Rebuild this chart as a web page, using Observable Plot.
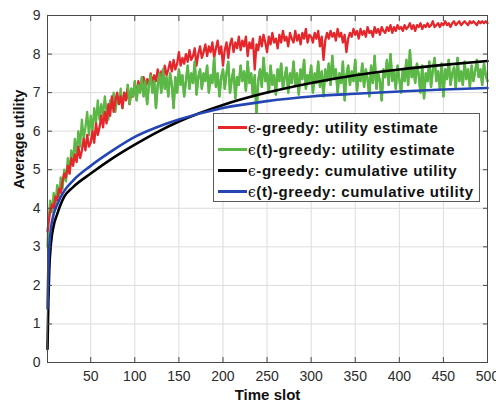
<!DOCTYPE html>
<html>
<head>
<meta charset="utf-8">
<script src="https://cdn.jsdelivr.net/npm/d3@7"></script>
<script src="https://cdn.jsdelivr.net/npm/@observablehq/plot@0.6"></script>
<style>
  html, body { margin: 0; padding: 0; background: #fff; }
  #wrap { position: relative; width: 496px; height: 405px; font-family: "Liberation Sans", Arial, sans-serif; }
  #legend { position: absolute; left: 213px; top: 113px; width: 267px; height: 89px; border: 1px solid #5a5a5a; background: #fff; box-sizing: border-box; padding-top: 3px; }
  .row { display: flex; align-items: center; height: 21.4px; }
  .swatch { width: 29px; height: 3px; margin-left: 4px; margin-right: 1px; }
  .lab { font-weight: bold; font-size: 15px; color: #111; white-space: nowrap; letter-spacing: 0.55px; }
  .eps { font-family: "DejaVu Serif", serif; font-weight: normal; font-size: 14px; letter-spacing: 0.5px; }
</style>
</head>
<body>
<div id="wrap"><div id="chart"></div><div id="legend"></div></div>
<script>
// Time slots of the noisy estimate series: slot 1, then every 2nd slot
const tNoisy = [1].concat(d3.range(2, 501, 2));

// ε-greedy: utility estimate (red)
const redEstimate = [3.4,
  3.6, 3.9, 4.1, 4.0, 4.3, 4.2, 4.5, 4.4, 4.7, 4.9,
  4.8, 5.1, 4.9, 5.3, 5.1, 5.4, 5.2, 5.6, 5.3, 5.5,
  5.8, 5.5, 5.9, 5.6, 5.7, 6.0, 5.7, 6.2, 5.9, 6.1,
  6.4, 6.1, 6.5, 6.2, 6.7, 6.4, 6.9, 6.5, 6.8, 7.0,
  6.7, 6.9, 6.6, 7.0, 6.8, 7.1, 6.7, 7.0, 6.9, 7.2,
  6.95, 7.3, 7.05, 7.2, 7.4, 7.1, 7.35, 7.2, 7.5, 7.25,
  7.45, 7.3, 7.6, 7.35, 7.55, 7.4, 7.7, 7.45, 7.6, 7.8,
  7.55, 7.85, 7.6, 7.75, 8.05, 7.7, 7.9, 7.75, 8.0, 7.8,
  8.1, 7.85, 7.95, 8.15, 7.7, 8.0, 8.2, 7.9, 8.05, 8.25,
  7.95, 8.2, 8.05, 8.3, 7.9, 8.15, 8.35, 8.0, 8.2, 7.7,
  8.1, 8.3, 7.9, 8.25, 8.4, 8.05, 8.3, 8.15, 8.45, 8.1,
  8.35, 8.2, 8.45, 7.95, 8.3, 8.15, 8.4, 7.6, 8.25, 8.1,
  8.45, 8.2, 8.5, 8.3, 8.05, 8.45, 8.25, 8.55, 8.3, 8.4,
  8.15, 8.5, 8.3, 8.6, 8.35, 8.45, 8.2, 8.55, 8.4, 8.3,
  8.6, 8.35, 8.5, 8.25, 8.55, 8.4, 8.65, 8.3, 8.5, 8.45,
  8.3, 8.55, 8.4, 8.6, 8.2, 8.45, 7.85, 8.35, 8.55, 8.4,
  8.6, 8.45, 8.55, 8.35, 8.65, 8.45, 8.55, 8.3, 8.5, 8.05,
  8.4, 8.55, 8.45, 8.65, 8.5, 8.6, 8.4, 8.65, 8.5, 8.6,
  8.45, 8.7, 8.55, 8.6, 8.45, 8.7, 8.55, 8.65, 8.5, 8.7,
  8.6, 8.55, 8.7, 8.6, 8.75, 8.55, 8.7, 8.6, 8.75, 8.65,
  8.7, 8.6, 8.75, 8.65, 8.7, 8.8, 8.65, 8.75, 8.6, 8.75,
  8.7, 8.8, 8.65, 8.75, 8.7, 8.8, 8.7, 8.75, 8.85, 8.7,
  8.75, 8.8, 8.7, 8.8, 8.75, 8.85, 8.75, 8.8, 8.7, 8.8,
  8.85, 8.75, 8.8, 8.85, 8.75, 8.8, 8.85, 8.8, 8.75, 8.85,
  8.8, 8.85, 8.8, 8.75, 8.85, 8.8, 8.85, 8.8, 8.85, 8.8
];

// ε(t)-greedy: utility estimate (green)
const greenEstimate = [3.0,
  3.6, 4.2, 3.9, 4.4, 4.1, 4.6, 4.3, 4.8, 4.5, 5.0,
  4.7, 5.3, 4.9, 5.5, 5.2, 5.8, 5.4, 6.0, 5.6, 6.3,
  5.8, 6.1, 6.5, 5.9, 6.4, 6.0, 6.6, 6.2, 6.8, 6.3,
  6.7, 6.4, 6.9, 6.5, 6.3, 6.8, 6.6, 7.0, 6.5, 6.9,
  6.7, 7.1, 6.6, 7.0, 6.8, 7.2, 6.7, 7.1, 6.9, 7.3,
  6.8, 7.2, 7.0, 7.4, 6.9, 7.3, 6.7, 7.2, 7.45, 7.0,
  7.3, 6.6, 7.2, 7.5, 7.0, 7.6, 7.1, 7.4, 6.9, 7.5,
  7.2, 6.6, 7.4, 7.0, 7.6, 7.2, 7.45, 6.9, 7.3, 7.7,
  7.1, 7.5, 7.25, 7.8, 6.95, 7.4, 7.6, 7.1, 7.5, 7.3,
  7.7, 7.0, 7.45, 7.25, 7.9, 7.15, 7.5, 6.9, 7.4, 7.6,
  7.1, 7.5, 7.8, 7.0, 7.35, 7.6, 6.85, 7.4, 7.2, 7.7,
  7.3, 7.55, 7.05, 7.8, 7.25, 7.5, 6.9, 7.45, 6.45, 7.3,
  7.6, 7.15, 7.9, 7.3, 7.5, 7.0, 7.7, 7.2, 7.45, 6.95,
  7.6, 7.3, 7.75, 7.1, 7.4, 7.65, 7.0, 7.5, 7.25, 7.8,
  7.2, 7.5, 6.95, 7.6, 7.35, 7.85, 7.1, 7.45, 7.3, 7.7,
  7.0, 7.5, 7.25, 7.8, 7.15, 7.55, 6.9, 7.6, 7.3, 7.75,
  7.2, 7.95, 7.35, 7.6, 7.0, 7.5, 7.25, 7.8, 6.8, 7.45,
  7.7, 7.2, 7.55, 7.3, 7.85, 7.05, 7.5, 7.3, 7.75, 7.15,
  7.6, 7.35, 6.9, 7.7, 7.25, 7.95, 7.1, 7.5, 7.3, 6.8,
  7.6, 7.4, 7.85, 7.2, 8.0, 7.3, 7.55, 7.1, 7.7, 7.35,
  7.0, 7.6, 7.3, 7.85, 7.2, 8.1, 7.4, 7.65, 7.25, 7.75,
  7.45, 7.0, 7.7, 6.85, 7.5, 7.3, 7.8, 7.15, 7.6, 7.9,
  7.3, 7.55, 7.1, 7.75, 6.9, 7.6, 7.35, 7.85, 7.2, 7.5,
  7.65, 7.1, 7.9, 7.3, 7.55, 7.2, 7.8, 7.35, 7.6, 7.15,
  7.7, 7.3, 7.55, 7.85, 7.4, 7.6, 7.2, 7.75, 7.45, 7.3
];

// Time slots of the smooth cumulative series
const tSmooth = [1, 2, 3, 5, 8, 12, 20, 30, 50, 75, 100, 125, 150, 200, 250, 300, 350, 400, 450, 500];
// ε-greedy: cumulative utility (black)
const blackCumulative = [0.35, 1.6, 2.4, 3.1, 3.55, 3.85, 4.3, 4.55, 4.9, 5.3, 5.65, 5.97, 6.25, 6.68, 7.0, 7.25, 7.45, 7.6, 7.72, 7.82];
// ε(t)-greedy: cumulative utility (blue)
const blueCumulative = [1.4, 2.5, 3.0, 3.5, 3.85, 4.1, 4.45, 4.72, 5.1, 5.5, 5.85, 6.1, 6.3, 6.6, 6.78, 6.9, 6.97, 7.03, 7.08, 7.12];

const xTicks = [50, 100, 150, 200, 250, 300, 350, 400, 450, 500];
const yTicks = [0, 1, 2, 3, 4, 5, 6, 7, 8, 9];

const legendItems = [
  {name: "-greedy: utility estimate", color: "#e5262b"},
  {name: "(t)-greedy: utility estimate", color: "#5cb846"},
  {name: "-greedy: cumulative utility", color: "#000000"},
  {name: "(t)-greedy: cumulative utility", color: "#2446b4"}
];

const red = tNoisy.map((t, i) => ({t, v: redEstimate[i]}));
const green = tNoisy.map((t, i) => ({t, v: greenEstimate[i]}));
const black = tSmooth.map((t, i) => ({t, v: blackCumulative[i]}));
const blue = tSmooth.map((t, i) => ({t, v: blueCumulative[i]}));

const axisColor = "#4a4a4a";
const lw = 2.3;
const chart = Plot.plot({
  width: 496,
  height: 405,
  marginLeft: 47,
  marginRight: 9,
  marginTop: 15,
  marginBottom: 43,
  style: {fontFamily: "Liberation Sans, Arial, sans-serif", background: "#fff"},
  x: {domain: [1, 500]},
  y: {domain: [0, 9]},
  marks: [
    Plot.gridX(xTicks, {stroke: "#dcdcdc", strokeOpacity: 1}),
    Plot.gridY(yTicks, {stroke: "#dcdcdc", strokeOpacity: 1}),
    Plot.line(green, {x: "t", y: "v", stroke: "#5cb846", strokeWidth: lw}),
    Plot.line(red, {x: "t", y: "v", stroke: "#e5262b", strokeWidth: lw}),
    Plot.line(green.filter(d => d.t > 90), {x: "t", y: "v", stroke: "#5cb846", strokeWidth: lw}),
    Plot.line(black, {x: "t", y: "v", stroke: "#000", strokeWidth: 2.6, curve: "monotone-x"}),
    Plot.line(blue, {x: "t", y: "v", stroke: "#2446b4", strokeWidth: 2.6, curve: "monotone-x"}),
    Plot.frame({stroke: axisColor, strokeWidth: 1}),
    // inward ticks on all four sides
    Plot.axisX(xTicks, {anchor: "bottom", tickSize: 5, dy: -5, tickFormat: () => "", stroke: axisColor, label: null}),
    Plot.axisX(xTicks, {anchor: "top", tickSize: 5, dy: 5, tickFormat: () => "", stroke: axisColor, label: null}),
    Plot.axisY(yTicks, {anchor: "left", tickSize: 5, dx: 5, tickFormat: () => "", stroke: axisColor, label: null}),
    Plot.axisY(yTicks, {anchor: "right", tickSize: 5, dx: -5, tickFormat: () => "", stroke: axisColor, label: null}),
    // tick labels
    Plot.axisX(xTicks, {anchor: "bottom", tickSize: 0, tickPadding: 9, fontSize: 14, fill: "#2b2b2b", label: null}),
    Plot.axisY(yTicks, {anchor: "left", tickSize: 0, tickPadding: 7, fontSize: 14, fill: "#2b2b2b", label: null}),
    // axis titles
    Plot.text(["Time slot"], {frameAnchor: "bottom", dy: 33, fontSize: 15, fontWeight: "bold", fill: "#111", lineAnchor: "middle"}),
    Plot.text(["Average utility"], {frameAnchor: "left", dx: -28, rotate: -90, fontSize: 14.5, fontWeight: "bold", fill: "#111", lineAnchor: "middle"})
  ]
});
document.getElementById("chart").appendChild(chart);

const legend = document.getElementById("legend");
for (const item of legendItems) {
  const row = document.createElement("div");
  row.className = "row";
  row.innerHTML = `<div class="swatch" style="background:${item.color}"></div><span class="lab"><span class="eps">\u03f5</span>${item.name}</span>`;
  legend.appendChild(row);
}
</script>
</body>
</html>
